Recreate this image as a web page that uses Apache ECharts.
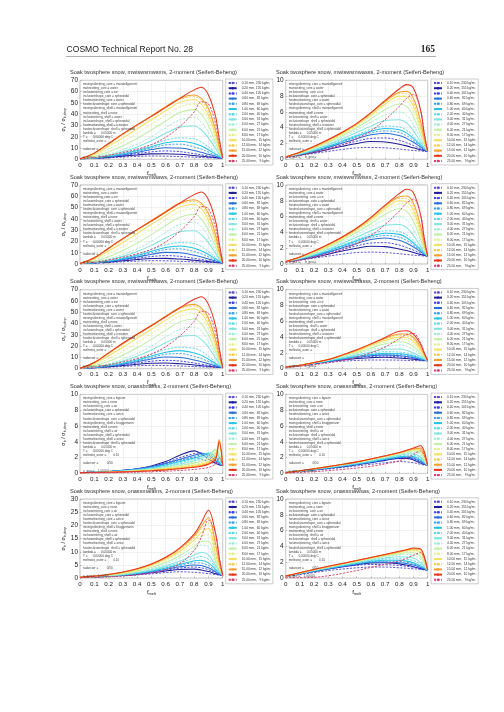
<!DOCTYPE html>
<html><head><meta charset="utf-8">
<script src="https://cdn.jsdelivr.net/npm/echarts@6/dist/echarts.min.js"></script>
<style>html,body{margin:0;padding:0;background:#fff}#c{width:504px;height:712px}</style>
</head><body><div id="c"></div>
<script>
// ---------------- data ----------------
const xs = [0,0.1,0.2,0.3,0.4,0.5,0.6,0.7,0.8,0.85,0.9,0.95,0.975,1];
const sizes = ['0.10 mm, 230 kg/m³','0.20 mm, 155 kg/m³','0.40 mm, 105 kg/m³','0.60 mm,  82 kg/m³',
  '0.80 mm,  69 kg/m³','1.00 mm,  60 kg/m³','2.00 mm,  40 kg/m³','3.00 mm,  31 kg/m³',
  '4.00 mm,  27 kg/m³','6.00 mm,  21 kg/m³','8.00 mm,  17 kg/m³','10.00 mm,  15 kg/m³',
  '12.00 mm,  14 kg/m³','15.00 mm,  12 kg/m³','20.00 mm,  10 kg/m³','25.00 mm,   9 kg/m³'];

const setA = [
[0.5,0.8,1.3,2,2.6,2.9,2.8,2.4,1.9,1.6,1.4,1.2,1.1,1],
[0.5,0.9,1.7,2.8,3.9,4.8,5,4.4,3.3,2.7,2.1,1.5,1.2,1],
[0.5,1,2,3.4,5,6.6,7.4,6.8,5,4,2.9,1.9,1.4,1],
[0.5,1.1,2.3,4,6.2,8.6,10.3,10,7.8,6.2,4.4,2.6,1.7,1],
[0.5,1.2,2.5,4.5,7,10,12.8,13.4,11,9,6.4,3.5,2,1],
[0.5,1.2,2.7,4.9,7.7,11.2,14.6,16,14,11.8,8.4,4.5,2.5,1],
[0.5,1.3,2.9,5.3,8.6,12.8,17,19,18,15.5,11,5.8,3,1],
[0.5,1.5,3.5,6.8,11,16.5,23,28.5,29.5,26,19,9.5,4.5,1],
[0.5,1.8,4.5,8.5,13.5,20,28,35,37,33,24,12,5.5,1],
[0.5,2.5,6.5,12,18.5,26,34,41.5,44,40,30,15,7,1],
[0.5,3.5,9,15.5,23,31,39,46.5,49,45,35,18,8,1],
[0.5,4.5,11.5,19,27,35,43,50.5,53,49,39,21,9.5,1],
[0.5,5,13,21.5,29.5,37.5,45.5,53,55.5,52,42,23,11,1],
[0.5,5.5,14,22.5,30.5,38.5,46.5,54,57,54,45,26,12,1],
[0.5,5.5,14,22.5,30.5,38,46,54,61.5,63.8,57,38,19,1],
[0.3,1.5,3.5,6,9,13,19.5,29,42,51,49,32,16,1]
];
const setB = [
[0.3,0.5,0.75,1,1.25,1.45,1.5,1.45,1.3,1.2,1.12,1.05,1.02,1],
[0.3,0.55,0.85,1.25,1.65,2,2.25,2.2,1.9,1.7,1.45,1.2,1.1,1],
[0.3,0.6,0.95,1.4,1.85,2.3,2.65,2.7,2.4,2.1,1.75,1.35,1.15,1],
[0.3,0.6,1,1.5,2.05,2.6,3.1,3.3,3,2.65,2.15,1.55,1.25,1],
[0.3,0.65,1.05,1.6,2.2,2.8,3.35,3.6,3.4,3,2.4,1.7,1.3,1],
[0.3,0.65,1.1,1.65,2.3,2.95,3.55,3.9,3.75,3.35,2.65,1.8,1.35,1],
[0.3,0.7,1.15,1.75,2.4,3.1,3.8,4.2,4.1,3.7,2.95,1.95,1.4,1],
[0.3,0.7,1.2,1.85,2.6,3.4,4.2,4.9,5,4.6,3.6,2.2,1.5,1],
[0.3,0.75,1.3,2,2.8,3.7,4.7,5.6,6,5.6,4.4,2.6,1.7,1],
[0.3,0.8,1.4,2.15,3,4,5.1,6.3,7,6.7,5.4,3.1,1.9,1],
[0.3,0.85,1.5,2.25,3.15,4.2,5.4,6.7,7.6,7.4,6.1,3.5,2.1,1],
[0.3,0.85,1.55,2.3,3.25,4.35,5.6,7,8,7.9,6.7,3.9,2.3,1],
[0.3,0.9,1.6,2.4,3.35,4.45,5.75,7.2,8.3,8.3,7.2,4.3,2.5,1],
[0.3,0.9,1.6,2.45,3.4,4.5,5.85,7.35,8.5,8.6,7.7,4.8,2.7,1],
[0.3,0.9,1.65,2.5,3.45,4.55,5.9,7.45,8.9,9.45,9,6.2,3.3,1],
[0.2,0.5,0.9,1.3,1.85,2.6,3.6,5,6.7,7.7,8.2,6.3,3.4,1]
];
const setC = [
[0.2,0.4,0.6,0.8,0.95,1.05,1.1,1.1,1.08,1.05,1.03,1.01,1,1],
[0.2,0.4,0.65,0.9,1.1,1.3,1.4,1.45,1.35,1.3,1.2,1.1,1.05,1],
[0.2,0.4,0.65,0.9,1.15,1.4,1.55,1.6,1.5,1.4,1.3,1.15,1.07,1],
[0.2,0.4,0.7,0.95,1.2,1.45,1.65,1.75,1.65,1.55,1.4,1.2,1.1,1],
[0.2,0.4,0.7,0.95,1.25,1.5,1.75,1.85,1.8,1.7,1.5,1.25,1.12,1],
[0.2,0.4,0.7,1,1.3,1.55,1.8,1.95,1.9,1.8,1.6,1.3,1.15,1],
[0.2,0.42,0.72,1,1.35,1.65,1.95,2.15,2.1,2,1.75,1.4,1.2,1],
[0.2,0.42,0.74,1.05,1.4,1.75,2.1,2.45,2.5,2.35,2,1.55,1.25,1],
[0.2,0.42,0.75,1.1,1.5,1.9,2.35,2.8,3,2.85,2.4,1.75,1.35,1],
[0.2,0.43,0.76,1.12,1.6,2.05,2.6,3.15,3.4,3.3,2.8,1.95,1.45,1],
[0.2,0.43,0.77,1.14,1.65,2.15,2.8,3.4,3.75,3.65,3.15,2.15,1.55,1],
[0.2,0.44,0.78,1.15,1.7,2.25,2.95,3.6,4,3.95,3.45,2.35,1.65,1],
[0.2,0.44,0.78,1.16,1.72,2.3,3.05,3.75,4.25,4.2,3.7,2.55,1.75,1],
[0.2,0.44,0.78,1.16,1.74,2.35,3.1,3.85,4.4,4.4,3.95,2.75,1.85,1],
[0.2,0.44,0.78,1.16,1.75,2.4,3.15,3.95,4.75,4.8,4.35,3.1,2,1],
[0.15,0.3,0.5,0.75,1.05,1.45,2,2.75,3.8,4.3,4.45,3.3,2.1,1]
];
const setD = [
[0.1,0.15,0.22,0.35,0.55,0.8,1.2,1.7,2,1.8,1.5,1.2,1.1,1],
[0.1,0.15,0.25,0.4,0.6,0.95,1.5,2.3,2.85,2.5,1.8,1.3,1.1,1],
[0.1,0.15,0.24,0.38,0.58,0.9,1.35,2,2.5,2.6,2.1,1.45,1.2,1],
[0.1,0.15,0.24,0.37,0.55,0.85,1.25,1.8,2.3,2.5,2.35,1.6,1.25,1],
[0.1,0.14,0.23,0.35,0.52,0.78,1.15,1.65,2.1,2.35,2.4,1.8,1.3,1],
[0.1,0.14,0.22,0.33,0.5,0.72,1.05,1.5,1.95,2.2,2.55,2.1,1.4,1],
[0.1,0.14,0.21,0.31,0.46,0.66,0.95,1.35,1.8,2.1,2.6,2.6,1.6,1],
[0.1,0.13,0.2,0.29,0.42,0.6,0.85,1.2,1.6,1.9,2.4,2.95,1.9,1],
[0.1,0.13,0.19,0.27,0.39,0.55,0.77,1.08,1.45,1.75,2.2,3,2.2,1],
[0.1,0.12,0.18,0.25,0.36,0.5,0.7,0.97,1.3,1.55,1.95,3.1,2.5,1],
[0.1,0.12,0.17,0.24,0.33,0.46,0.63,0.87,1.15,1.38,1.7,2.9,3.2,1],
[0.1,0.12,0.16,0.22,0.3,0.42,0.57,0.78,1.02,1.2,1.5,2.5,3.7,1],
[0.1,0.11,0.15,0.21,0.28,0.38,0.52,0.7,0.92,1.08,1.35,2.2,4.1,1],
[0.1,0.11,0.15,0.2,0.27,0.36,0.48,0.64,0.85,1,1.25,2,4.3,1],
[0.1,0.11,0.14,0.19,0.25,0.33,0.44,0.58,0.77,0.9,1.15,1.8,4,1],
[0.05,0.07,0.09,0.12,0.16,0.21,0.28,0.37,0.5,0.6,0.75,1.2,2,1]
];
const setE = [
[0.1,0.25,0.4,0.55,0.75,0.95,1.15,1.35,1.5,1.45,1.35,1.15,1.07,1],
[0.1,0.28,0.45,0.65,0.85,1.1,1.35,1.65,1.9,1.9,1.7,1.3,1.15,1],
[0.1,0.28,0.46,0.66,0.88,1.12,1.4,1.7,1.95,2,1.85,1.4,1.2,1],
[0.1,0.29,0.48,0.68,0.9,1.15,1.43,1.75,2,2.05,1.95,1.5,1.25,1],
[0.1,0.3,0.5,0.7,0.93,1.18,1.47,1.8,2.05,2.1,2.05,1.6,1.3,1],
[0.1,0.3,0.5,0.72,0.95,1.2,1.5,1.83,2.1,2.18,2.15,1.7,1.35,1],
[0.1,0.31,0.52,0.74,0.98,1.24,1.55,1.88,2.2,2.3,2.3,1.85,1.4,1],
[0.1,0.32,0.54,0.77,1.02,1.3,1.6,1.95,2.3,2.45,2.5,2.05,1.5,1],
[0.1,0.33,0.56,0.8,1.06,1.35,1.67,2.03,2.4,2.58,2.7,2.3,1.6,1],
[0.1,0.34,0.58,0.83,1.1,1.4,1.73,2.1,2.5,2.7,2.85,2.55,1.75,1],
[0.1,0.34,0.59,0.85,1.13,1.43,1.77,2.15,2.55,2.78,2.95,2.75,1.9,1],
[0.1,0.34,0.6,0.86,1.14,1.45,1.8,2.18,2.58,2.82,3.02,2.95,2.1,1],
[0.1,0.34,0.6,0.86,1.15,1.46,1.81,2.2,2.6,2.85,3.08,3.1,2.3,1],
[0.1,0.34,0.6,0.86,1.15,1.46,1.82,2.21,2.62,2.88,3.12,3.2,2.5,1],
[0.1,0.34,0.6,0.86,1.15,1.46,1.82,2.22,2.65,2.92,3.2,3.5,2.8,1],
[0.05,0.12,0.22,0.35,0.5,0.68,0.9,1.2,1.6,1.95,2.4,2.85,2.3,1]
];
const setF = [
[0.3,0.4,0.6,0.85,1.2,1.6,2.1,2.4,2.2,2,1.7,1.35,1.15,1],
[0.3,0.4,0.65,0.95,1.4,2,2.7,3.3,3.4,3.1,2.5,1.7,1.3,1],
[0.3,0.45,0.7,1.05,1.55,2.2,3,3.8,4.2,3.9,3.2,2,1.4,1],
[0.3,0.45,0.72,1.1,1.65,2.4,3.3,4.3,5,4.8,3.9,2.4,1.6,1],
[0.3,0.45,0.75,1.15,1.75,2.55,3.6,4.8,5.8,5.7,4.8,2.8,1.75,1],
[0.3,0.5,0.78,1.2,1.85,2.7,3.85,5.2,6.6,6.8,5.8,3.3,1.95,1],
[0.3,0.5,0.8,1.25,1.95,2.9,4.2,5.8,7.6,8.2,7.2,4,2.2,1],
[0.3,0.5,0.85,1.35,2.1,3.15,4.6,6.5,8.8,9.8,8.8,4.8,2.6,1],
[0.3,0.55,0.95,1.5,2.35,3.6,5.3,7.6,10.7,12.5,12,5.5,3,1],
[0.3,0.6,1.05,1.7,2.65,4,5.9,8.5,12,14,14,6.5,3.4,1],
[0.3,0.65,1.15,1.9,2.95,4.5,6.6,9.5,13.3,15.8,16.5,7.5,4,1],
[0.3,0.7,1.25,2.05,3.2,4.85,7.1,10.2,14.4,17.3,18.8,9,4.5,1],
[0.3,0.75,1.35,2.2,3.4,5.1,7.5,10.8,15.3,18.7,21,11,5.5,1],
[0.3,0.75,1.4,2.25,3.5,5.25,7.7,11.2,16,19.7,23,13,6,1],
[0.3,0.75,1.4,2.3,3.55,5.35,7.9,11.5,16.7,21,25.8,17,8,1],
[0.2,0.3,0.5,0.8,1.3,2,3.2,5.5,10.5,15.5,22,17,8,1]
];
const setG = [
[0.2,0.45,0.7,0.95,1.15,1.3,1.4,1.4,1.3,1.25,1.18,1.1,1.05,1],
[0.25,0.55,0.85,1.15,1.45,1.7,1.9,1.95,1.8,1.65,1.45,1.2,1.1,1],
[0.25,0.55,0.85,1.15,1.42,1.62,1.72,1.7,1.6,1.5,1.38,1.2,1.1,1],
[0.25,0.58,0.9,1.2,1.5,1.78,2,2.05,1.95,1.85,1.65,1.35,1.17,1],
[0.25,0.58,0.9,1.22,1.52,1.82,2.05,2.15,2.1,2,1.8,1.45,1.22,1],
[0.25,0.6,0.92,1.25,1.56,1.86,2.12,2.27,2.25,2.15,1.95,1.55,1.27,1],
[0.25,0.6,0.94,1.28,1.6,1.92,2.2,2.4,2.45,2.38,2.2,1.75,1.35,1],
[0.25,0.62,0.97,1.32,1.65,1.98,2.3,2.55,2.7,2.68,2.55,2,1.5,1],
[0.25,0.63,1,1.36,1.7,2.05,2.4,2.7,2.95,3,2.9,2.35,1.65,1],
[0.25,0.65,1.03,1.4,1.75,2.1,2.47,2.8,3.1,3.2,3.2,2.7,1.85,1],
[0.25,0.66,1.05,1.43,1.79,2.15,2.52,2.87,3.2,3.35,3.4,3,2.05,1],
[0.25,0.67,1.07,1.45,1.82,2.18,2.55,2.92,3.27,3.45,3.55,3.25,2.25,1],
[0.25,0.68,1.08,1.47,1.84,2.2,2.58,2.95,3.32,3.5,3.65,3.45,2.45,1],
[0.25,0.68,1.09,1.48,1.85,2.22,2.6,2.97,3.35,3.55,3.72,3.6,2.6,1],
[0.25,0.68,1.1,1.49,1.86,2.23,2.62,3,3.4,3.6,3.8,3.7,2.8,1],
[0.05,0.05,0.1,0.3,0.6,0.95,1.35,1.75,2.2,2.5,2.9,3.2,2.6,1]
];

const titles = [
 'Soak twosphere snow, mwiswsmwsms, 2-moment (Seifert-Beheng)',
 'Soak twosphere snow, mwiswsmwasss, 2-moment (Seifert-Beheng)',
 'Soak twosphere snow, mwiswsmwiaws, 2-moment (Seifert-Beheng)',
 'Soak twosphere snow, mwiswsmwisss, 2-moment (Seifert-Beheng)',
 'Soak twosphere snow, mwiswsmwiaws, 2-moment (Seifert-Beheng)',
 'Soak twosphere snow, mwiswsonasss, 2-moment (Seifert-Beheng)',
 'Soak twosphere snow, onassbnasss, 2-moment (Seifert-Beheng)',
 'Soak twosphere snow, onassmaisas, 2-moment (Seifert-Beheng)',
 'Soak twosphere snow, onassmaiams, 2-moment (Seifert-Beheng)',
 'Soak twosphere snow, onassmawsas, 2-moment (Seifert-Beheng)'
];
const chartSets = [setA,setB,setA,setB,setA,setC,setD,setE,setF,setG];
const yMaxes = [70,10,70,10,70,10,10,10,30,10];
const yIntervals = [10,2,10,2,10,2,2,2,5,2];

const notesMw = ['mixingrulestring_core = maxwellgarnett','matrixstring_core = water','inclusionstring_core = ice',
 'inclusionshape_core = spheroidal','hostmatrixstring_core = water','hostinclusionshape_core = spheroidal',
 'mixingrulestring_shell = maxwellgarnett','matrixstring_shell = none','inclusionstring_shell = water',
 'inclusionshape_shell = spheroidal','hostmatrixstring_shell = icewater','hostinclusionshape_shell = spheroidal',
 'lambda =      0.05000 m','T =      0.00000 deg C','meltratio_outer =',' ','radarcorr =',' ','a_geo =      b_geo ='];
const notesOn = ['mixingrulestring_core = bgsum','matrixstring_core = none','inclusionstring_core = air',
 'inclusionshape_core = spheroidal','hostmatrixstring_core = airice','hostinclusionshape_core = spheroidal',
 'mixingrulestring_shell = bruggemann','matrixstring_shell = none','inclusionstring_shell = air',
 'inclusionshape_shell = spheroidal','hostmatrixstring_shell = airice','hostinclusionshape_shell = spheroidal',
 'lambda =      0.05000 m','T =      0.00000 deg C','meltratio_outer =        0.10',' ','radarcorr =          0/50',' ','a_geo =    1.00000'];

// ---------------- styling ----------------
const colors = ['#5a4fcf','#1f1f9a','#3d3df0','#2a6fd8','#3aa0f0','#26c4e8','#5ad8e8','#80e4e0',
  '#9eecd0','#bff0a8','#e2f08a','#f4e064','#f8c848','#f5a030','#e8361c','#d9406a'];
const dashes = ['dashed','solid','dashed','solid','dashed','solid','dashed','solid',
  'dashed','solid','dashed','solid','dashed','solid','solid','dashed'];

const cols = [{left:80,width:142.7,legendLeft:225.7,titleLeft:70},{left:285.7,width:142,legendLeft:431,titleLeft:276}];
const rowStep = 104.7;

const grid=[], xAxis=[], yAxis=[], series=[], legend=[], graphic=[];
graphic.push({type:'text',left:66.5,top:45,style:{text:'COSMO Technical Report No. 28',fontSize:8.6,fontFamily:'Liberation Sans',fill:'#222'}});
graphic.push({type:'text',right:69,top:44.5,style:{text:'165',fontSize:9.5,fontWeight:'bold',fontFamily:'Liberation Serif',fill:'#222'}});
graphic.push({type:'line',shape:{x1:66,y1:56.5,x2:436,y2:56.5},style:{stroke:'#777',lineWidth:0.6}});

for (let k=0;k<10;k++){
  const row=Math.floor(k/2), c=cols[k%2];
  const top=80.3+rowStep*row;
  grid.push({left:c.left,top:top,width:c.width,height:79,show:true,borderColor:'#888',borderWidth:0.6,backgroundColor:'#fff'});
  xAxis.push({gridIndex:k,type:'value',min:0,max:1,interval:0.1,
    axisLine:{show:false},axisTick:{inside:true,length:1.5,lineStyle:{color:'#888',width:0.5}},
    axisLabel:{fontSize:6.2,margin:3,color:'#222',fontFamily:'Liberation Sans',
      formatter:v=> (v<=0.001?'0':(v>=0.999?'1':v.toFixed(1)))},
    splitLine:{show:true,lineStyle:{color:'#e3e3e3',width:0.5}},
    name:'f{s|melt}',nameLocation:'middle',nameGap:10,
    nameTextStyle:{fontSize:6,color:'#222',fontFamily:'Liberation Sans',rich:{s:{fontSize:3.8,color:'#222',padding:[4,0,0,0]}}}});
  yAxis.push({gridIndex:k,type:'value',min:0,max:yMaxes[k],interval:yIntervals[k],
    axisLine:{show:false},axisTick:{inside:true,length:1.5,lineStyle:{color:'#888',width:0.5}},
    axisLabel:{fontSize:6.5,margin:2,color:'#222',fontFamily:'Liberation Sans'},
    splitLine:{show:true,lineStyle:{color:'#e3e3e3',width:0.5}},
    name:'σ{s|b} / σ{s|b,drop}',nameLocation:'middle',nameGap:yMaxes[k]>=30?10:7,
    nameTextStyle:{fontSize:5.5,color:'#222',fontFamily:'Liberation Sans',rich:{s:{fontSize:3.6,color:'#222',padding:[3,0,0,0]}}}});
  const set=chartSets[k];
  for (let j=0;j<16;j++){
    series.push({type:'line',name:sizes[j],xAxisIndex:k,yAxisIndex:k,
      data:xs.map((x,i)=>[x,set[j][i]]),
      showSymbol:false,symbol:'none',smooth:0.35,silent:true,animation:false,
      lineStyle:{color:colors[j],width:dashes[j]==='solid'?1.05:0.95,type:dashes[j]==='solid'?'solid':[2.2,1.4]},
      itemStyle:{color:colors[j]}});
  }
  legend.push({show:true,orient:'vertical',left:c.legendLeft,top:79+rowStep*row,data:sizes,
    itemWidth:8,itemHeight:3,itemGap:1.2,selectedMode:false,padding:[2,2,2,2],
    borderColor:'#999',borderWidth:0.5,backgroundColor:'#fff',
    textStyle:{fontSize:3.2,lineHeight:4,color:'#333',fontFamily:'Liberation Sans'}});
  graphic.push({type:'text',left:c.titleLeft,top:top-11,style:{text:titles[k],fontSize:5.6,fontFamily:'Liberation Sans',fill:'#333'}});
  graphic.push({type:'text',left:c.left+3,top:top+2,z:100,
    style:{text:(k<6?notesMw:notesOn).join('\n'),fontSize:3.1,lineHeight:4.05,fontFamily:'Liberation Sans',fill:'#444'}});
}

const chart = echarts.init(document.getElementById('c'));
chart.setOption({animation:false,backgroundColor:'#fff',grid,xAxis,yAxis,series,legend,graphic});
</script>
</body></html>
